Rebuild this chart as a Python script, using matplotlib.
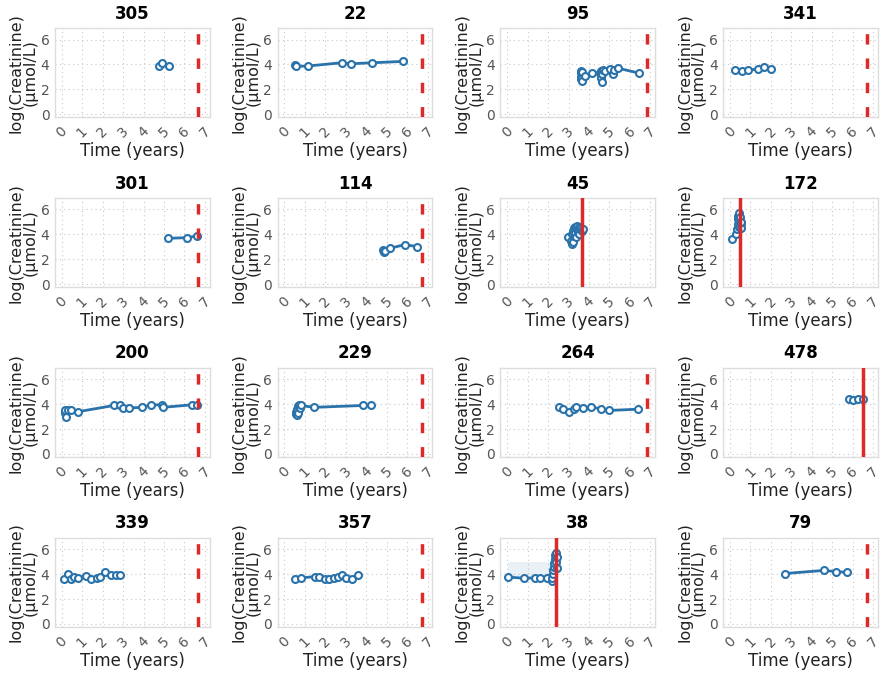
import matplotlib
matplotlib.use("Agg")
import matplotlib.pyplot as plt
import numpy as np

# ---- data ----
patient_ids = ["305", "22", "95", "341",
               "301", "114", "45", "172",
               "200", "229", "264", "478",
               "339", "357", "38", "79"]

times = {
    "305": [4.74, 4.9, 5.25],
    "22": [0.53, 0.56, 1.14, 2.79, 3.27, 4.27, 5.81],
    "95": [3.6, 3.6, 3.62, 3.62, 3.65, 3.65, 3.8, 4.15, 4.55, 4.6, 4.6, 4.65, 4.65, 4.7, 4.8, 5.05, 5.15, 5.2, 5.4, 6.45],
    "341": [0.27, 0.6, 0.87, 1.39, 1.68, 2.0],
    "301": [5.2, 6.12, 6.6],
    "114": [4.83, 4.86, 4.9, 5.15, 5.87, 6.49],
    "45": [2.95, 3.1, 3.15, 3.15, 3.2, 3.2, 3.25, 3.25, 3.3, 3.3, 3.35, 3.4, 3.4, 3.45, 3.5, 3.5, 3.55, 3.6, 3.65, 3.7],
    "172": [0.12, 0.3, 0.35, 0.38, 0.4, 0.42, 0.45, 0.45, 0.48, 0.5, 0.52, 0.55, 0.55],
    "200": [0.15, 0.18, 0.2, 0.3, 0.45, 0.8, 2.55, 2.85, 3.0, 3.3, 3.9, 4.35, 4.9, 4.95, 6.35, 6.6],
    "229": [0.55, 0.58, 0.6, 0.62, 0.65, 0.68, 0.7, 0.75, 0.8, 1.45, 3.85, 4.25],
    "264": [2.55, 2.75, 3.0, 3.25, 3.35, 3.7, 4.1, 4.6, 5.0, 6.4],
    "478": [5.8, 6.04, 6.24, 6.49],
    "339": [0.1, 0.3, 0.45, 0.6, 0.8, 1.2, 1.45, 1.7, 1.85, 2.1, 2.4, 2.65, 2.85],
    "357": [0.5, 0.8, 1.5, 1.7, 2.0, 2.2, 2.4, 2.6, 2.8, 3.0, 3.3, 3.6],
    "38": [0.05, 0.83, 1.37, 1.62, 1.93, 2.18, 2.2, 2.22, 2.25, 2.28, 2.3, 2.32, 2.35, 2.38, 2.4, 2.42, 2.45],
    "79": [2.7, 4.6, 5.2, 5.7],
}

log_creatinine = {
    "305": [3.86, 4.15, 3.86],
    "22": [3.97, 3.84, 3.87, 4.13, 4.05, 4.13, 4.24],
    "95": [3.5, 3.3, 3.0, 2.8, 2.7, 3.4, 3.05, 3.3, 3.3, 3.5, 2.9, 2.6, 3.2, 3.55, 3.45, 3.6, 3.2, 3.55, 3.7, 3.3],
    "341": [3.57, 3.49, 3.57, 3.6, 3.79, 3.63],
    "301": [3.68, 3.73, 3.87],
    "114": [2.77, 2.55, 2.69, 2.87, 3.17, 3.01],
    "45": [3.8, 3.5, 3.2, 4.0, 3.4, 4.3, 3.9, 4.5, 4.1, 4.6, 3.8, 4.4, 4.7, 4.2, 4.6, 4.0, 4.4, 4.5, 4.3, 4.4],
    "172": [3.6, 4.0, 4.4, 4.8, 5.2, 5.5, 5.7, 4.6, 5.0, 5.4, 4.8, 4.5, 5.0],
    "200": [3.3, 3.5, 3.0, 3.5, 3.5, 3.4, 3.9, 3.9, 3.7, 3.7, 3.75, 3.95, 3.95, 3.75, 3.95, 3.95],
    "229": [3.2, 3.4, 3.1, 3.6, 3.85, 3.3, 3.9, 3.7, 3.9, 3.75, 3.9, 3.9],
    "264": [3.8, 3.65, 3.35, 3.6, 3.75, 3.7, 3.75, 3.65, 3.5, 3.6],
    "478": [4.45, 4.3, 4.4, 4.42],
    "339": [3.6, 4.0, 3.6, 3.8, 3.7, 3.85, 3.6, 3.7, 3.75, 4.15, 3.9, 3.95, 3.95],
    "357": [3.6, 3.7, 3.8, 3.8, 3.6, 3.6, 3.7, 3.8, 3.9, 3.7, 3.6, 3.9],
    "38": [3.76, 3.67, 3.7, 3.65, 3.65, 3.48, 3.7, 4.0, 4.3, 4.6, 4.9, 5.2, 5.5, 5.7, 5.0, 4.5, 5.4],
    "79": [4.05, 4.3, 4.2, 4.15],
}

# event (solid) or censoring (dashed) time for each patient
end_time = {
    "305": 6.66, "22": 6.73, "95": 6.84, "341": 6.72,
    "301": 6.66, "114": 6.73, "45": 3.67, "172": 0.48,
    "200": 6.66, "229": 6.73, "264": 6.84, "478": 6.49,
    "339": 6.66, "357": 6.73, "38": 2.39, "79": 6.72,
}
event = {"45": True, "172": True, "478": True, "38": True}

# shaded band in patient 38 (x range, y range)
band_38_x = [0.05, 2.2]
band_38_y = [3.76, 5.0]

x_ticks = [0, 1, 2, 3, 4, 5, 6, 7]
y_ticks = [0, 2, 4, 6]

# ---- plotting ----
plt.rcParams["font.family"] = ["DejaVu Sans"]
fig, axes = plt.subplots(4, 4, figsize=(8.84, 6.74), dpi=100)
fig.subplots_adjust(left=0.0622, right=0.993, top=0.958, bottom=0.0697,
                    wspace=0.44, hspace=0.91)

blue = "#2a72aa"
red = "#dc2a2a"

for ax, pid in zip(axes.flat, patient_ids):
    ax.set_facecolor("white")
    for s in ax.spines.values():
        s.set_color("#dddddd")
        s.set_linewidth(1.0)
    ax.grid(True, linestyle=(0, (1, 3)), color="#c8c8c8", linewidth=0.8)
    ax.set_axisbelow(True)

    if pid == "38":
        ax.fill_between(band_38_x, band_38_y[0], band_38_y[1],
                        color=blue, alpha=0.1, linewidth=0)

    t = np.array(times[pid])
    v = np.array(log_creatinine[pid])
    order = np.argsort(t, kind="stable")
    ax.plot(t[order], v[order], color=blue, linewidth=2,
            marker="o", markersize=5, markerfacecolor="white",
            markeredgecolor=blue, markeredgewidth=1.5, zorder=3)

    if event.get(pid, False):
        ax.axvline(end_time[pid], color=red, linewidth=2.5, zorder=4)
    else:
        ax.axvline(end_time[pid], color=red, linewidth=2.5,
                   linestyle=(0, (3.0, 4.0)), zorder=4)

    ax.set_xlim(-0.33, 7.23)
    ax.set_ylim(-0.25, 6.9)
    ax.set_xticks(x_ticks)
    ax.set_yticks(y_ticks)
    ax.tick_params(axis="x", labelrotation=45, labelsize=10,
                   colors="#555555", length=0, pad=5)
    ax.tick_params(axis="y", labelsize=10, colors="#555555", length=0, pad=4)
    ax.set_title(pid, fontsize=12, fontweight="bold", pad=7)
    ax.set_xlabel("Time (years)", fontsize=12, color="#222222", labelpad=1)
    ax.set_ylabel("log(Creatinine)\n(μmol/L)", fontsize=11.5, color="#222222",
                  labelpad=2, linespacing=0.9)

fig.savefig("out.png", dpi=100)
